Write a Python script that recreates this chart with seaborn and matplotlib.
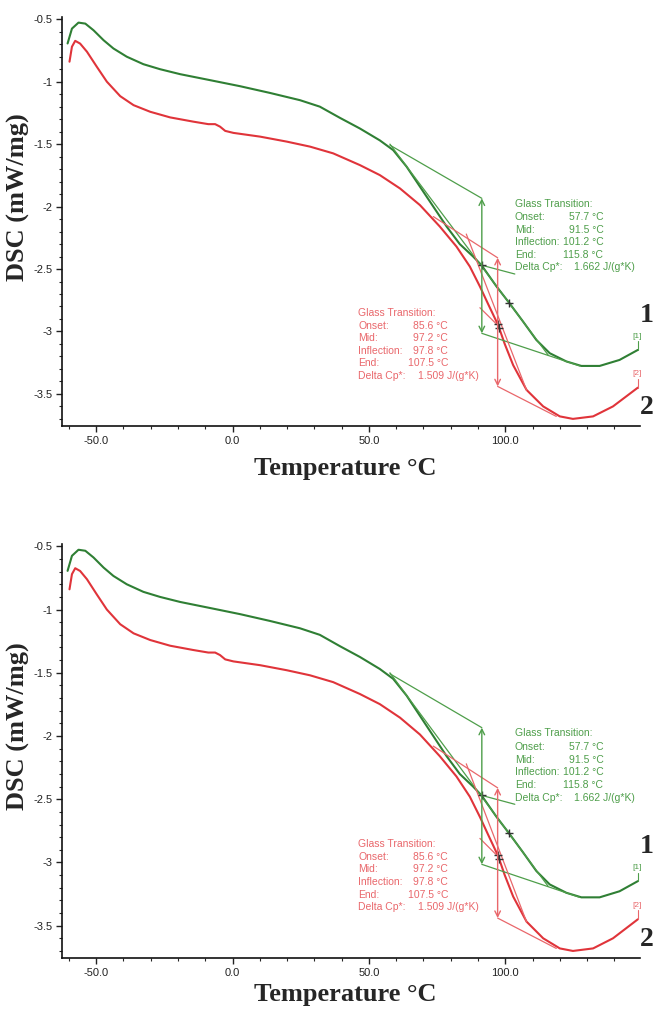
import matplotlib
matplotlib.use("Agg")
import matplotlib.pyplot as plt
from matplotlib.ticker import MultipleLocator, FuncFormatter
import seaborn as sns
import pandas as pd

# curve 1 (green) and curve 2 (red)
t_green = [-60.5, -58.9, -56.5, -54, -51, -47.3, -43.7, -38.8, -32.7, -26.6, -19.2, -8.2,
           2.7, 13.7, 24.7, 32, 39.4, 46.7, 54, 58.9, 63.8, 68.7, 73.6, 78.5, 83.3, 88.2,
           91.3, 96.8, 101.4, 106.5, 111.4, 116.3, 122.4, 127.9, 134.6, 141.9, 148.6]
dsc_green = [-0.694, -0.575, -0.527, -0.535, -0.588, -0.668, -0.734, -0.80, -0.86, -0.90,
             -0.94, -0.988, -1.036, -1.09, -1.148, -1.20, -1.29, -1.375, -1.47, -1.548,
             -1.68, -1.84, -2.0, -2.16, -2.30, -2.40, -2.47, -2.64, -2.77, -2.92, -3.068,
             -3.174, -3.24, -3.276, -3.276, -3.228, -3.148]

t_red = [-59.8, -58.9, -57.7, -55.9, -53.4, -49.8, -46.1, -41.2, -36.3, -30.2, -22.9, -14.4,
         -8.9, -6.4, -4.6, -2.7, 0.3, 10.1, 19.9, 28.4, 36.9, 46.7, 54, 61.4, 68.7, 76,
         82.1, 87, 90.7, 93.7, 97.4, 99.8, 102.9, 107.8, 113.9, 120, 124.8, 132.2, 139.5, 148.6]
dsc_red = [-0.84, -0.72, -0.673, -0.695, -0.76, -0.88, -1.00, -1.116, -1.188, -1.241, -1.286,
           -1.32, -1.34, -1.34, -1.36, -1.394, -1.41, -1.44, -1.48, -1.52, -1.574, -1.668,
           -1.748, -1.855, -1.988, -2.16, -2.32, -2.48, -2.64, -2.78, -2.95, -3.10, -3.27,
           -3.468, -3.60, -3.68, -3.70, -3.68, -3.60, -3.45]

# glass transition constructions (tangents, step arrows, marks)
g_upper = ([57.7, 91.4], [-1.508, -1.934])
g_lower = ([91.4, 127.3], [-3.015, -3.276])
g_tangent = ([57.7, 115.7], [-1.50, -3.188])
g_leader = ([91.4, 103.5], [-2.47, -2.54])
g_marks = ([91.4, 101.3], [-2.47, -2.77])
r_upper = ([73.6, 97.2], [-2.08, -2.41])
r_lower = ([97.2, 118.7], [-3.44, -3.68])
r_tangent = ([85.7, 107.8], [-2.22, -3.47])
r_leader = ([97.2, 90.7], [-2.95, -2.81])
r_marks = ([97.2, 97.6], [-2.94, -2.975])

g_names = ["Onset:", "Mid:", "Inflection:", "End:", "Delta Cp*:"]
g_values = ["57.7 \u00b0C", "91.5 \u00b0C", "101.2 \u00b0C", "115.8 \u00b0C", "1.662 J/(g*K)"]
r_values = ["85.6 \u00b0C", "97.2 \u00b0C", "97.8 \u00b0C", "107.5 \u00b0C", "1.509 J/(g*K)"]

GREEN = "#2f7f34"
GREEN_L = "#4e9e4a"
RED = "#e0343a"
RED_L = "#e9676b"

sns.set_style("ticks")
plt.rcParams["font.family"] = ["Liberation Sans", "DejaVu Sans"]

df = pd.concat([
    pd.DataFrame({"T": t_green, "DSC": dsc_green, "curve": "1"}),
    pd.DataFrame({"T": t_red, "DSC": dsc_red, "curve": "2"}),
])


def panel(ax, xlab_y):
    sns.lineplot(data=df, x="T", y="DSC", hue="curve", palette={"1": GREEN, "2": RED},
                 estimator=None, sort=False, lw=1.5, legend=False, ax=ax)
    for seg in [g_upper, g_lower, g_tangent, g_leader]:
        ax.plot(seg[0], seg[1], color=GREEN_L, lw=0.9)
    for seg in [r_upper, r_lower, r_tangent, r_leader]:
        ax.plot(seg[0], seg[1], color=RED_L, lw=0.9)
    ax.annotate("", xy=(g_upper[0][1], g_upper[1][1]), xytext=(g_lower[0][0], g_lower[1][0]),
                arrowprops=dict(arrowstyle="<->", color=GREEN_L, lw=1.0, shrinkA=0, shrinkB=0))
    ax.annotate("", xy=(r_upper[0][1], r_upper[1][1]), xytext=(r_lower[0][0], r_lower[1][0]),
                arrowprops=dict(arrowstyle="<->", color=RED_L, lw=1.0, shrinkA=0, shrinkB=0))
    ax.plot(g_marks[0], g_marks[1], "+", color="#333333", ms=6, mew=1.0)
    ax.plot(r_marks[0], r_marks[1], "+", color="#333333", ms=6, mew=1.0)

    # text boxes
    ax.text(103.5, -1.98, "Glass Transition:", color=GREEN_L, fontsize=7.5, va="center")
    ax.text(46, -2.854, "Glass Transition:", color=RED_L, fontsize=7.5, va="center")
    for i, name in enumerate(g_names):
        ax.text(103.5, -2.087 - 0.1 * i, name, color=GREEN_L, fontsize=7.5, va="center")
        ax.text(46, -2.955 - 0.1 * i, name, color=RED_L, fontsize=7.5, va="center")
        gx = 147.5 if i == 4 else 136
        rx = 90.3 if i == 4 else 79
        ax.text(gx, -2.087 - 0.1 * i, g_values[i], color=GREEN_L, fontsize=7.5,
                va="center", ha="right")
        ax.text(rx, -2.955 - 0.1 * i, r_values[i], color=RED_L, fontsize=7.5,
                va="center", ha="right")

    # curve tags
    ax.plot([148.6, 148.6], [-3.148, -3.08], color=GREEN_L, lw=0.8)
    ax.plot([148.6, 148.6], [-3.45, -3.38], color=RED_L, lw=0.8)
    ax.text(148.4, -3.04, "[1]", color=GREEN_L, fontsize=6, ha="center", va="center")
    ax.text(148.4, -3.34, "[2]", color=RED_L, fontsize=6, ha="center", va="center")
    ax.text(152, -2.87, "1", fontsize=20, fontweight="bold", family="Liberation Serif",
            ha="center", va="center", clip_on=False)
    ax.text(152, -3.61, "2", fontsize=20, fontweight="bold", family="Liberation Serif",
            ha="center", va="center", clip_on=False)

    ax.set_xlim(-62.5, 149.5)
    ax.set_ylim(-3.756, -0.484)
    ax.xaxis.set_major_locator(MultipleLocator(50))
    ax.xaxis.set_minor_locator(MultipleLocator(10))
    ax.yaxis.set_major_locator(MultipleLocator(0.5))
    ax.yaxis.set_minor_locator(MultipleLocator(0.1))
    ax.xaxis.set_major_formatter(FuncFormatter(lambda v, p: "%.1f" % v))
    ax.yaxis.set_major_formatter(FuncFormatter(lambda v, p: "%g" % v))
    ax.tick_params(which="major", length=4, width=1, labelsize=8, colors="#222222", pad=3)
    ax.tick_params(which="minor", length=2.5, width=0.8)
    sns.despine(ax=ax)
    for s in ["left", "bottom"]:
        ax.spines[s].set_linewidth(1.2)
        ax.spines[s].set_color("#111111")

    ax.set_xlabel("Temperature \u00b0C", fontsize=19, fontweight="bold", family="Liberation Serif")
    ax.set_ylabel("DSC (mW/mg)", fontsize=19, fontweight="bold", family="Liberation Serif")
    ax.xaxis.set_label_coords(0.49, xlab_y)
    ax.yaxis.set_label_coords(-0.056, 0.56)


fig = plt.figure(figsize=(6.54, 10.14), dpi=100)
ax1 = fig.add_axes([0.095, 0.580, 0.884, 0.403])
ax2 = fig.add_axes([0.095, 0.0552, 0.884, 0.408])
panel(ax1, -0.075)
panel(ax2, -0.06)

fig.savefig("out.png", dpi=100)
